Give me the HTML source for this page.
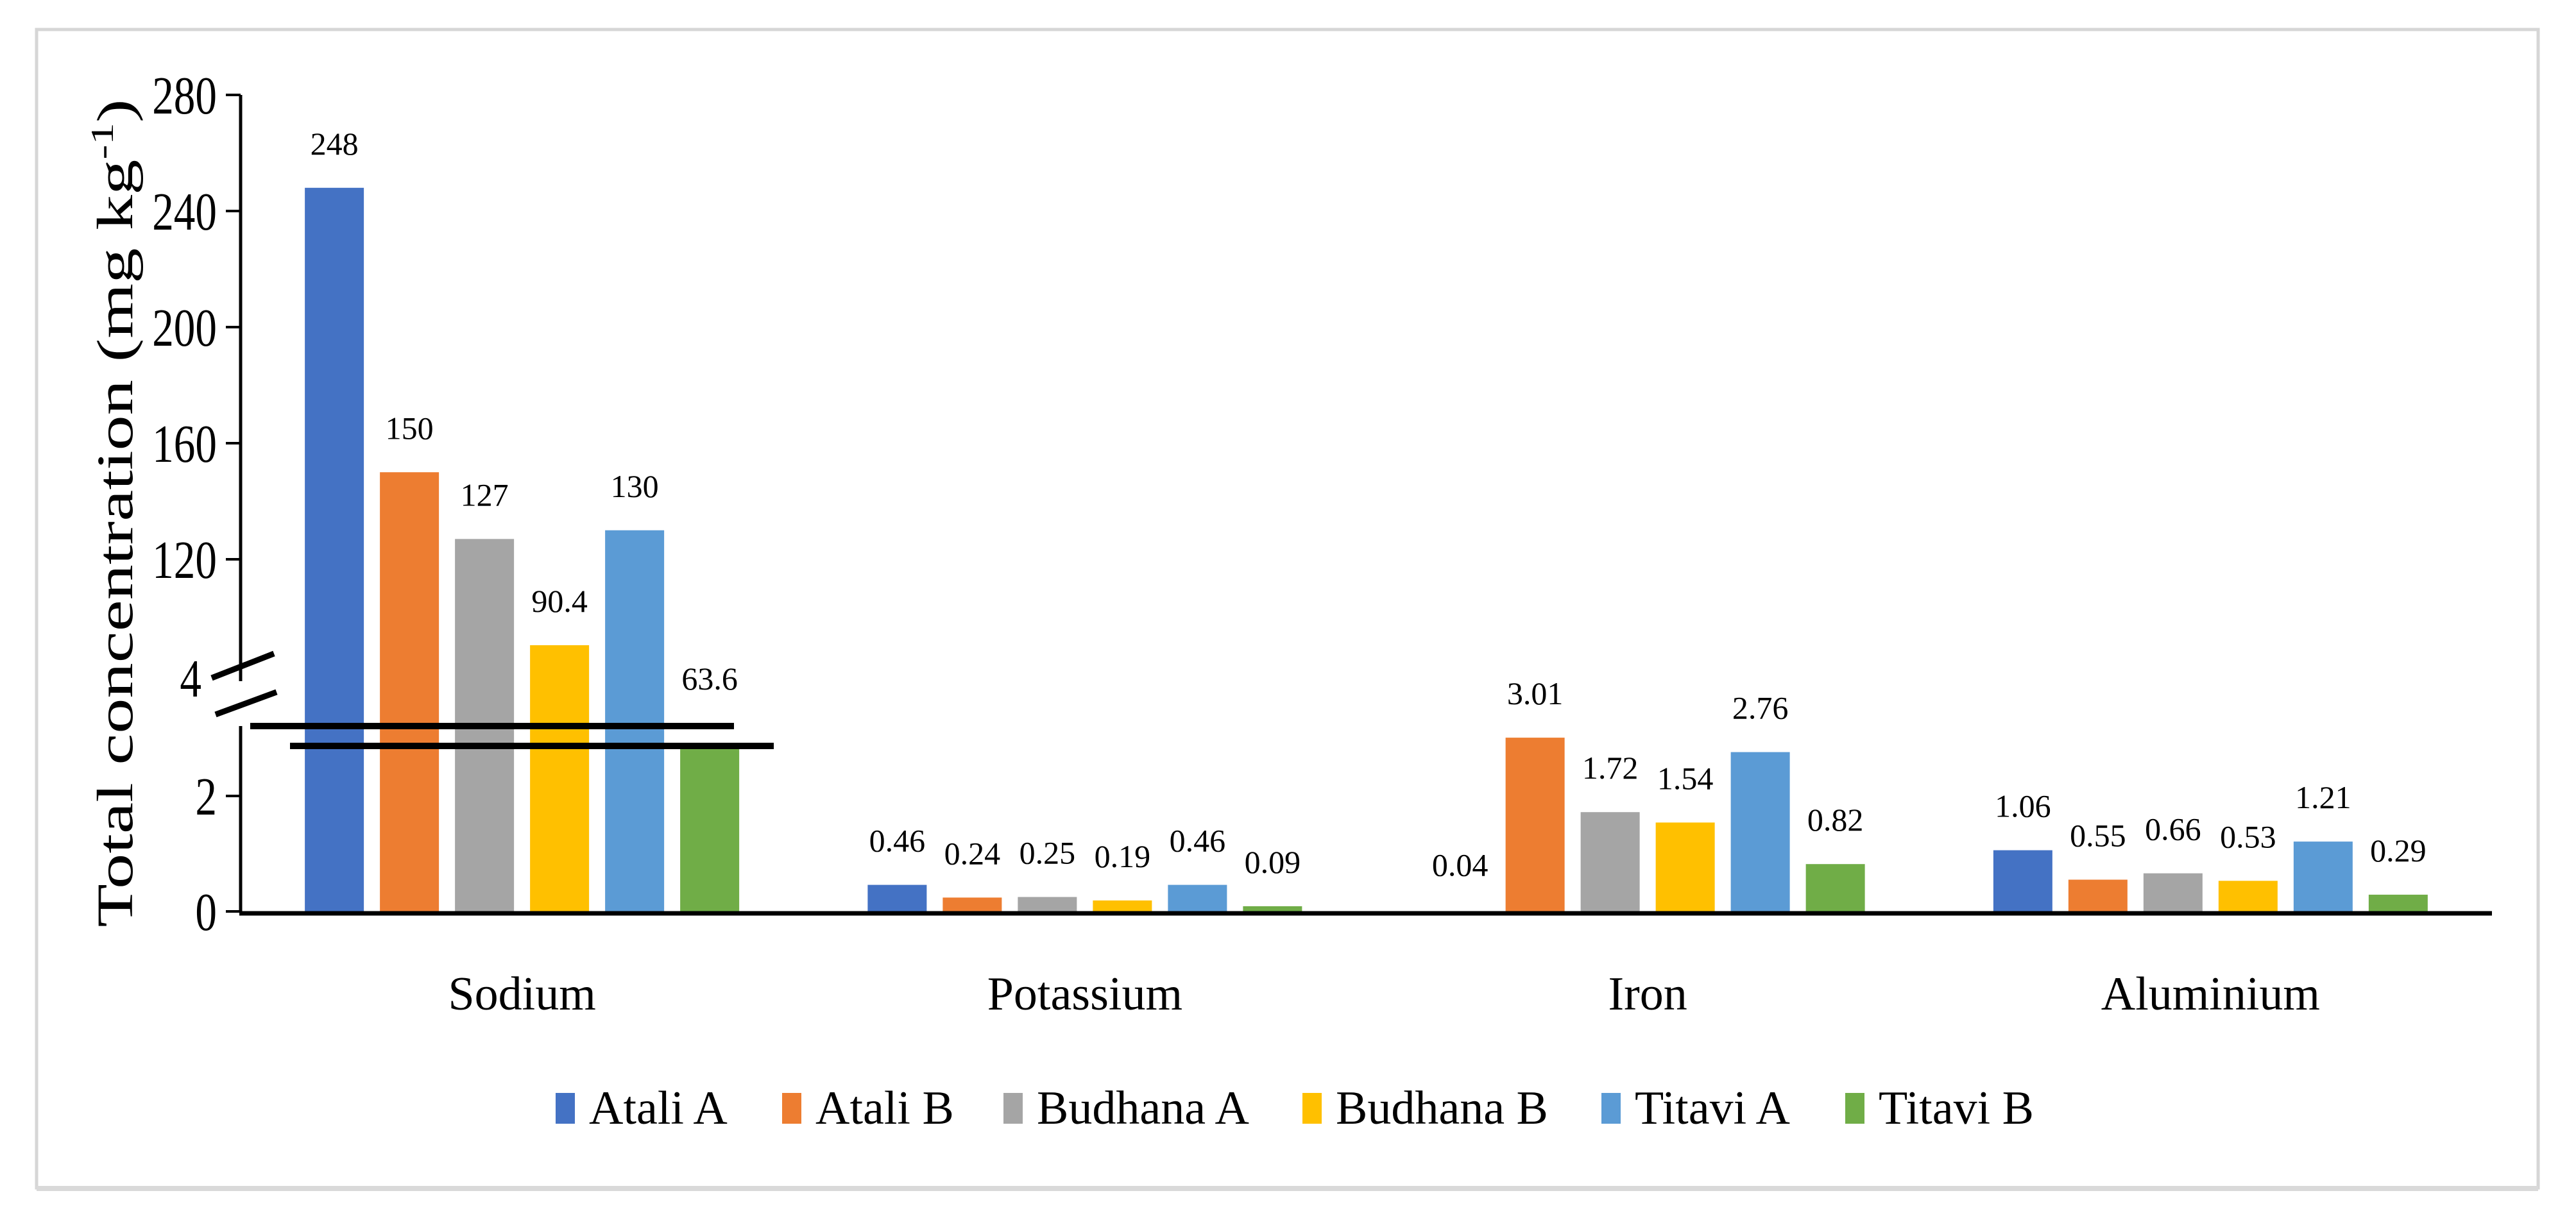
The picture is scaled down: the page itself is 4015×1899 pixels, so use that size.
<!DOCTYPE html>
<html><head><meta charset="utf-8"><style>
html,body{margin:0;padding:0;background:#fff;}
svg{display:block;font-family:"Liberation Serif",serif;}
</style></head><body>
<svg id="chart" width="4015" height="1899" viewBox="0 0 4015 1899" xmlns="http://www.w3.org/2000/svg">
<rect x="57" y="46" width="3899" height="1806" fill="#fff" stroke="#d6d6d6" stroke-width="5"/>
<rect x="57" y="1849" width="3899" height="8" fill="#d9d9d9"/>
<g id="plot"></g>
<text transform="translate(206,800) rotate(-90) scale(1.38,1)" text-anchor="middle" font-size="80">Total concentration (mg kg<tspan font-size="50" dy="-30">-1</tspan><tspan dy="30">)</tspan></text>
</svg>
<script>
const categories = ["Sodium","Potassium","Iron","Aluminium"];
const seriesNames = ["Atali A","Atali B","Budhana A","Budhana B","Titavi A","Titavi B"];
const seriesColors = ["#4472C4","#ED7D31","#A5A5A5","#FFC000","#5B9BD5","#70AD47"];
const atalliA = [248,0.46,0.04,1.06];
const atalliB = [150,0.24,3.01,0.55];
const budhanaA = [127,0.25,1.72,0.66];
const budhanaB = [90.4,0.19,1.54,0.53];
const titaviA = [130,0.46,2.76,1.21];
const titaviB = [63.6,0.09,0.82,0.29];
const valueLabels = [
 ["248","0.46","0.04","1.06"],["150","0.24","3.01","0.55"],["127","0.25","1.72","0.66"],
 ["90.4","0.19","1.54","0.53"],["130","0.46","2.76","1.21"],["63.6","0.09","0.82","0.29"]];
const upperTicks = [120,160,200,240,280];
const lowerTicks = [0,2];
const series = [atalliA,atalliB,budhanaA,budhanaB,titaviA,titaviB];

const NS="http://www.w3.org/2000/svg";
const g=document.getElementById('plot');
function mk(tag,attrs,txt){const e=document.createElementNS(NS,tag);for(const k in attrs)e.setAttribute(k,attrs[k]);if(txt!==undefined)e.textContent=txt;g.appendChild(e);return e;}
const X0=375,X1=3884,BASE=1421;
const bw=(X1-X0)/categories.length;
function yLower(v){return BASE-v*90;}
function yUpper(v){return 872-(v-120)*4.525;}
const BREAK_LOW=1163;
function xBar(ci,si){return X0+bw*(ci+0.5)-(6*117-25)/2+si*117;}

series.forEach((arr,si)=>{
  arr.forEach((v,ci)=>{
    let top,ly;
    if(ci===0){
      let yu=yUpper(v);
      top = yu>1100 ? BREAK_LOW : yu;
      ly = yu-70;
    } else { top=yLower(v); ly=top-70; }
    if(BASE-top<6) top=BASE;
    const r=mk('rect',{x:xBar(ci,si),y:top,width:92,height:BASE-top,fill:seriesColors[si]});
    
    
    const t=mk('text',{x:xBar(ci,si)+46,y:ly+18,'text-anchor':'middle','font-size':'50'},valueLabels[si][ci]);
    
    
  });
});

let a=mk('line',{x1:X0,y1:148,x2:X0,y2:1062,stroke:'#000','stroke-width':5});


a=mk('line',{x1:X0,y1:1132,x2:X0,y2:BASE,stroke:'#000','stroke-width':5});



function tickLabel(x,y,txt){
  const l=mk('text',{x:0,y:0,transform:'translate('+x+','+y+') scale(0.8,1)','text-anchor':'end','font-size':'84'},txt);
  return l;
}
upperTicks.forEach(v=>{
  const y=yUpper(v);
  let t=mk('line',{x1:352,y1:y,x2:X0,y2:y,stroke:'#000','stroke-width':4});
  
  
  let l=tickLabel(338,y+29,String(v));
  
  
});
lowerTicks.forEach(v=>{
  const y=yLower(v);
  let t=mk('line',{x1:352,y1:y,x2:X0,y2:y,stroke:'#000','stroke-width':4});
  
  
  let l=tickLabel(338,y+29,String(v));
  
  
});
let l4=tickLabel(314,1086,'4');



[[330,1057,427,1019],[336,1114,431,1079]].forEach(p=>{
  const s=mk('line',{x1:p[0],y1:p[1],x2:p[2],y2:p[3],stroke:'#000','stroke-width':9});
  
  
});
[[390,1132,1144],[452,1163,1206]].forEach(p=>{
  const s=mk('line',{x1:p[0],y1:p[1],x2:p[2],y2:p[1],stroke:'#000','stroke-width':10});
  
  
});

let xa=mk('line',{x1:X0-2,y1:1424,x2:X1,y2:1424,stroke:'#000','stroke-width':7});


categories.forEach((c,ci)=>{
  const t=mk('text',{x:X0+bw*(ci+0.5),y:1574,'text-anchor':'middle','font-size':'74'},c);
  
  
});

const legX=[866,1219,1564,2030,2496,2876];
seriesNames.forEach((n,i)=>{
  const r=mk('rect',{x:legX[i],y:1704,width:30,height:48,fill:seriesColors[i]});
  
  
  const t=mk('text',{x:legX[i]+52,y:1752,'font-size':'74'},n);
  
  
});
</script>
</body></html>
